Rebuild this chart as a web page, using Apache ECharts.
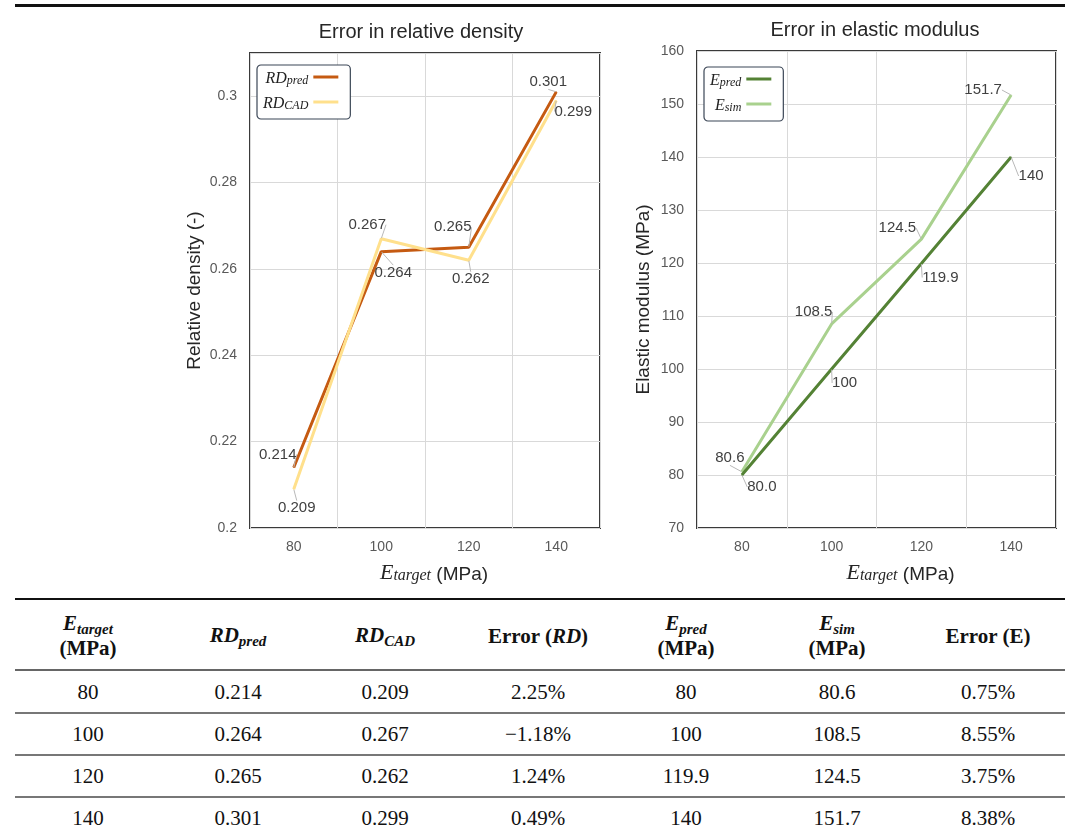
<!DOCTYPE html>
<html><head><meta charset="utf-8">
<script src="https://cdn.jsdelivr.net/npm/echarts@6/dist/echarts.min.js"></script>
<style>
html,body{margin:0;padding:0;background:#fff;}
#chart{position:absolute;left:0;top:0;width:1065px;height:592px;z-index:1;}
.rule{position:absolute;left:15px;width:1050px;z-index:5;}
.cell{position:absolute;transform:translate(-50%,-50%);font-family:"Liberation Serif",serif;font-size:21px;color:#111;white-space:nowrap;text-align:center;line-height:23px;}
.sub{font-size:15px;position:relative;top:4px;}
</style></head><body>
<div class="rule" style="top:4px;height:3px;background:#111;"></div>
<div id="chart"></div>
<div id="table"></div>
<script>
// ---- data ----
const categories = ['80', '100', '120', '140'];
const rdPred = [0.214, 0.264, 0.265, 0.301];
const rdCad = [0.209, 0.267, 0.262, 0.299];
const ePred = [80, 100, 119.9, 140];
const eSim = [80.6, 108.5, 124.5, 151.7];
const ePredLabelText = ['80.0', '100', '119.9', '140'];
const errRD = ['2.25%', '\u22121.18%', '1.24%', '0.49%'];
const errE = ['0.75%', '8.55%', '3.75%', '8.38%'];

// ---- label placement (offsets from point, px) ----
const rdPredOffsets = [[-16, -13], [12, 21], [-16, -20], [-8, -10]];
const rdCadOffsets = [[3, 19], [-14, -14], [2, 19], [17, 11]];
const ePredOffsets = [[20, 12], [13, 14], [19, 14], [20, 19]];
const eSimOffsets = [[-12, -14], [-18, -12], [-24, -11], [-28, -5]];

const C = {
  rdPred: '#C55A11', rdCad: '#FFE08C', ePred: '#548235', eSim: '#A9D18E'
};

const serifRich = {
  m: { fontFamily: 'Liberation Serif', fontStyle: 'italic', fontSize: 16, color: '#222', verticalAlign: 'bottom', lineHeight: 20 },
  s: { fontFamily: 'Liberation Serif', fontStyle: 'italic', fontSize: 12, color: '#222', verticalAlign: 'bottom', lineHeight: 8 }
};
const nameRich = {
  e: { fontFamily: 'Liberation Serif', fontStyle: 'italic', fontSize: 22, color: '#262626', verticalAlign: 'bottom', lineHeight: 24 },
  s: { fontFamily: 'Liberation Serif', fontStyle: 'italic', fontSize: 16, color: '#262626', verticalAlign: 'bottom', lineHeight: 14 },
  p: { fontFamily: 'Liberation Sans', fontSize: 19, color: '#262626', verticalAlign: 'bottom', lineHeight: 24 }
};
const legendNames = {
  'RD_pred': '{m|RD}{s|pred}', 'RD_CAD': '{m|RD}{s|CAD}',
  'E_pred': '{m|E}{s|pred}', 'E_sim': '{m|E}{s|sim}'
};

function mkSeries(name, data, color, idx, offsets, labelText, z) {
  return {
    type: 'line', name: name, data: data, xAxisIndex: idx, yAxisIndex: idx, z: z,
    symbol: 'circle', symbolSize: 1, showSymbol: true,
    lineStyle: { color: color, width: 3 }, itemStyle: { color: color },
    label: {
      show: true, position: 'inside', color: '#404040', fontSize: 15, fontFamily: 'Liberation Sans',
      formatter: function (p) { return labelText ? labelText[p.dataIndex] : String(p.value); }
    },
    labelLine: { show: true, lineStyle: { color: '#b8b8b8', width: 1 } },
    labelLayout: function (p) {
      const o = offsets[p.dataIndex];
      return { x: p.rect.x + p.rect.width / 2 + o[0], y: p.rect.y + p.rect.height / 2 + o[1], align: 'center', verticalAlign: 'middle' };
    },
    emphasis: { disabled: true }
  };
}

function mkX(idx, shift) {
  return {
    type: 'category', gridIndex: idx, data: categories, boundaryGap: true,
    axisLine: { show: false }, axisTick: { show: false },
    axisLabel: { color: '#595959', fontSize: 14, fontFamily: 'Liberation Sans', margin: 12 },
    splitLine: { show: true, lineStyle: { color: '#d9d9d9', width: 1 } },
    name: '{e|E}{s|target}{p| (MPa)}', nameLocation: 'middle', nameGap: 32,
    nameTextStyle: { rich: nameRich, padding: [0, 0, 0, shift] }
  };
}
function mkY(idx, min, max, interval, name, gap, shift) {
  return {
    type: 'value', gridIndex: idx, min: min, max: max, interval: interval,
    axisLine: { show: false }, axisTick: { show: false },
    axisLabel: { color: '#595959', fontSize: 14, fontFamily: 'Liberation Sans', margin: 13, showMaxLabel: min === 70 },
    splitLine: { show: true, lineStyle: { color: '#d9d9d9', width: 1 } },
    name: name, nameLocation: 'middle', nameGap: gap,
    nameTextStyle: { color: '#262626', fontSize: 19, fontFamily: 'Liberation Sans', padding: [0, shift, 0, 0] }
  };
}
function mkLegend(names, left, top) {
  return {
    data: names, left: left, top: top, orient: 'vertical', align: 'right',
    icon: 'rect', itemWidth: 25, itemHeight: 3, itemGap: 9,
    borderColor: '#3b4656', borderWidth: 1.2, borderRadius: 4, padding: [6, 12, 7, 6],
    backgroundColor: '#fff',
    formatter: function (n) { return legendNames[n]; },
    textStyle: { rich: serifRich }
  };
}

const chart = echarts.init(document.getElementById('chart'), null, { renderer: 'canvas' });
chart.setOption({
  animation: false,
  backgroundColor: 'transparent',
  grid: [
    { left: 250, top: 53, width: 350, height: 475, show: true, borderColor: '#3a3a3a', borderWidth: 2, backgroundColor: 'transparent' },
    { left: 697, top: 51, width: 359, height: 477, show: true, borderColor: '#3a3a3a', borderWidth: 2, backgroundColor: 'transparent' }
  ],
  xAxis: [mkX(0, 18), mkX(1, 48)],
  yAxis: [
    mkY(0, 0.2, 0.31, 0.02, 'Relative density (-)', 46, 0),
    mkY(1, 70, 160, 10, 'Elastic modulus (MPa)', 44, 20)
  ],
  legend: [mkLegend(['RD_pred', 'RD_CAD'], 257, 65), mkLegend(['E_pred', 'E_sim'], 704, 67)],
  graphic: [
    { type: 'text', x: 421, y: 32, style: { text: 'Error in relative density', font: '20px "Liberation Sans"', fill: '#262626', align: 'center', verticalAlign: 'middle' } },
    { type: 'text', x: 875, y: 30, style: { text: 'Error in elastic modulus', font: '20px "Liberation Sans"', fill: '#262626', align: 'center', verticalAlign: 'middle' } }
  ],
  series: [
    mkSeries('RD_pred', rdPred, C.rdPred, 0, rdPredOffsets, null, 2),
    mkSeries('RD_CAD', rdCad, C.rdCad, 0, rdCadOffsets, null, 3),
    mkSeries('E_pred', ePred, C.ePred, 1, ePredOffsets, ePredLabelText, 3),
    mkSeries('E_sim', eSim, C.eSim, 1, eSimOffsets, null, 2)
  ]
});

// ---- table ----
const colX = [88, 238, 385, 538, 686, 837, 988];
const rowY = [692, 734, 776, 818];
const headers = [
  '<b><i>E</i><i class="sub">target</i></b><br><b>(MPa)</b>',
  '<b><i>RD</i><i class="sub">pred</i></b>',
  '<b><i>RD</i><i class="sub">CAD</i></b>',
  '<b>Error (<i>RD</i>)</b>',
  '<b><i>E</i><i class="sub">pred</i></b><br><b>(MPa)</b>',
  '<b><i>E</i><i class="sub">sim</i></b><br><b>(MPa)</b>',
  '<b>Error (E)</b>'
];
let html = '';
html += '<div class="rule" style="top:598px;height:2px;background:#111;"></div>';
html += '<div class="rule" style="top:669px;height:2px;background:#666;"></div>';
html += '<div class="rule" style="top:712px;height:2px;background:#777;"></div>';
html += '<div class="rule" style="top:754px;height:2px;background:#777;"></div>';
html += '<div class="rule" style="top:796px;height:2px;background:#777;"></div>';
headers.forEach(function (h, i) {
  html += '<div class="cell" style="left:' + colX[i] + 'px;top:636px;">' + h + '</div>';
});
categories.forEach(function (c, r) {
  const vals = [c, String(rdPred[r]), String(rdCad[r]), errRD[r], String(ePred[r]), String(eSim[r]), errE[r]];
  vals.forEach(function (v, i) {
    html += '<div class="cell" style="left:' + colX[i] + 'px;top:' + rowY[r] + 'px;">' + v + '</div>';
  });
});
document.getElementById('table').innerHTML = html;
</script>
</body></html>
